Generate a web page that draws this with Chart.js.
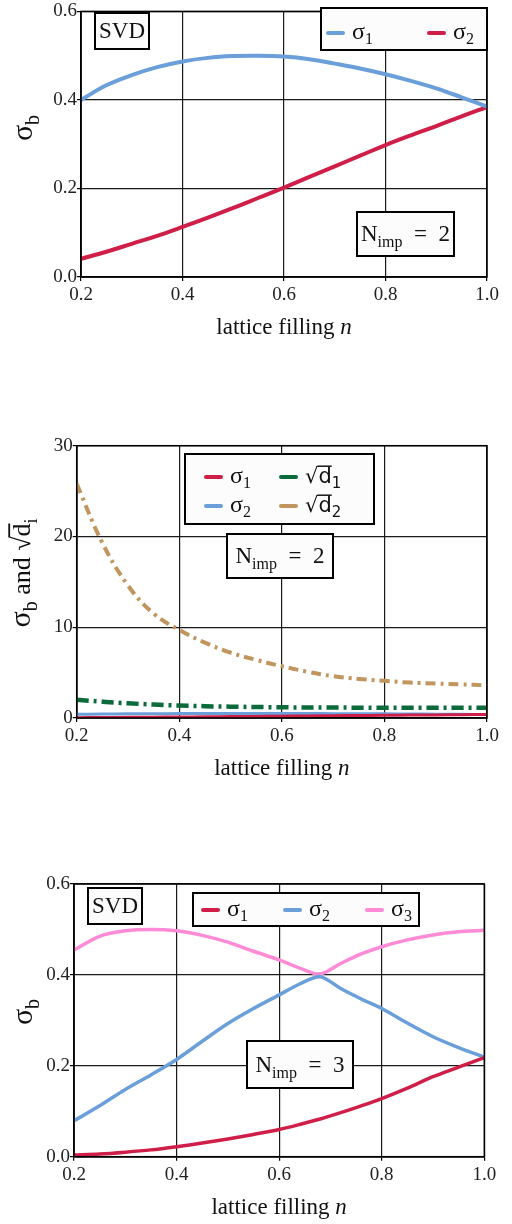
<!DOCTYPE html>
<html>
<head>
<meta charset="utf-8">
<script src="https://cdn.jsdelivr.net/npm/chart.js@4/dist/chart.umd.min.js"></script>
<style>
  body { margin: 0; background: #fff; width: 512px; height: 1224px; position: relative; overflow: hidden; }
  canvas { position: absolute; left: 0; }
</style>
</head>
<body>
<canvas id="chart1" width="512" height="345" style="top:0px"></canvas>
<canvas id="chart2" width="512" height="360" style="top:430px"></canvas>
<canvas id="chart3" width="512" height="364" style="top:860px"></canvas>

<script>
// lattice filling n (x values)
var fill = [0.2, 0.25, 0.3, 0.35, 0.4, 0.45, 0.5, 0.55, 0.6, 0.65, 0.7, 0.75, 0.8, 0.85, 0.9, 0.95, 1.0];
var fill3 = [0.2, 0.25, 0.3, 0.35, 0.4, 0.45, 0.5, 0.55, 0.6, 0.64, 0.68, 0.72, 0.76, 0.8, 0.85, 0.9, 0.95, 1.0];

// top chart, N_imp = 2
var top_sigma1 = [0.400, 0.433, 0.456, 0.474, 0.487, 0.495, 0.499, 0.500, 0.498, 0.492, 0.482, 0.471, 0.458, 0.443, 0.426, 0.406, 0.385];
var top_sigma2 = [0.041, 0.057, 0.075, 0.093, 0.113, 0.134, 0.156, 0.179, 0.202, 0.226, 0.250, 0.274, 0.298, 0.320, 0.341, 0.363, 0.384];

// middle chart, N_imp = 2
var mid_sigma1 = [0.041, 0.057, 0.075, 0.093, 0.113, 0.134, 0.156, 0.179, 0.202, 0.226, 0.250, 0.274, 0.298, 0.320, 0.341, 0.363, 0.384];
var mid_sigma2 = [0.400, 0.433, 0.456, 0.474, 0.487, 0.495, 0.499, 0.500, 0.498, 0.492, 0.482, 0.471, 0.458, 0.443, 0.426, 0.406, 0.385];
var mid_sqrtd1 = [2.0, 1.8, 1.62, 1.48, 1.38, 1.3, 1.25, 1.21, 1.18, 1.16, 1.15, 1.14, 1.13, 1.13, 1.13, 1.13, 1.13];
var mid_sqrtd2 = [25.8, 19.3, 14.6, 11.5, 9.7, 8.3, 7.2, 6.4, 5.7, 5.1, 4.6, 4.3, 4.1, 3.9, 3.8, 3.7, 3.6];

// bottom chart, N_imp = 3
var bot_sigma1 = [0.004, 0.006, 0.010, 0.015, 0.022, 0.030, 0.039, 0.049, 0.060, 0.071, 0.083, 0.097, 0.112, 0.128, 0.151, 0.176, 0.197, 0.218];
var bot_sigma2 = [0.079, 0.112, 0.148, 0.180, 0.214, 0.254, 0.293, 0.326, 0.356, 0.380, 0.396, 0.370, 0.347, 0.326, 0.294, 0.264, 0.240, 0.219];
var bot_sigma3 = [0.455, 0.485, 0.497, 0.500, 0.497, 0.487, 0.472, 0.452, 0.433, 0.415, 0.402, 0.425, 0.446, 0.462, 0.477, 0.488, 0.495, 0.498];

var BLUE = '#6a9fd9', RED = '#cf1f49', PINK = '#ff8ad6', GREEN = '#0b6b3a', TAN = '#c1955e';
var SERIF = '"Liberation Serif", "DejaVu Serif", serif';
var SANS = '"DejaVu Sans", sans-serif';

function pts(xs, ys) {
    var out = [];
    for (var i = 0; i < xs.length; i++) out.push({ x: xs[i], y: ys[i] });
    return out;
}

// draw text made of pieces (for subscripts, sqrt with overline)
function richWidth(ctx, segs) {
    var w = 0;
    segs.forEach(function (s) {
        ctx.font = (s.italic ? 'italic ' : '') + s.s + 'px ' + (s.sans ? SANS : SERIF);
        w += ctx.measureText(s.t).width;
    });
    return w;
}
function drawRich(ctx, segs, x, y, align) {
    var w = richWidth(ctx, segs);
    var cx = align == 'center' ? x - w / 2 : x;
    ctx.textBaseline = 'alphabetic';
    ctx.textAlign = 'left';
    segs.forEach(function (s) {
        ctx.font = (s.italic ? 'italic ' : '') + s.s + 'px ' + (s.sans ? SANS : SERIF);
        ctx.fillStyle = '#111';
        var tw = ctx.measureText(s.t).width;
        ctx.fillText(s.t, cx, y + (s.dy || 0));
        if (s.over) {
            ctx.save();
            ctx.strokeStyle = '#111';
            ctx.lineWidth = s.s * 0.07;
            ctx.beginPath();
            ctx.moveTo(cx - 1, y + (s.dy || 0) - s.s * 0.8);
            ctx.lineTo(cx + tw, y + (s.dy || 0) - s.s * 0.8);
            ctx.stroke();
            ctx.restore();
        }
        cx += tw;
    });
}
function sig(k) { return [{ t: 'σ', s: 24 }, { t: String(k), s: 16, dy: 5 }]; }
function sqd(k) { return [{ t: '√', s: 21, sans: true }, { t: 'd', s: 21, sans: true, over: true }, { t: String(k), s: 15, sans: true, dy: 5 }]; }
function nimp(k) { return [{ t: 'N', s: 23 }, { t: 'imp', s: 16, dy: 6 }, { t: '  =  ' + k, s: 23 }]; }

function frameBox(ctx, b) {
    ctx.save();
    ctx.fillStyle = '#fcfcfc';
    ctx.fillRect(b.x, b.y, b.w, b.h);
    ctx.strokeStyle = '#000';
    ctx.lineWidth = 2;
    ctx.strokeRect(b.x, b.y, b.w, b.h);
    ctx.restore();
}

var deco = {
    id: 'deco',
    afterDatasetsDraw: function (chart, args, opts) {
        var ctx = chart.ctx, a = chart.chartArea;
        ctx.save();
        // plot frame
        ctx.strokeStyle = '#000';
        ctx.lineWidth = 1.5;
        ctx.strokeRect(a.left, a.top, a.right - a.left, a.bottom - a.top);

        // axis titles
        drawRich(ctx, [{ t: 'lattice filling ', s: 23 }, { t: 'n', s: 23, italic: true }], (a.left + a.right) / 2, a.bottom + 57, 'center');
        ctx.save();
        ctx.translate(opts.yTitleX, opts.yTitleY);
        ctx.rotate(-Math.PI / 2);
        drawRich(ctx, opts.yTitle, 0, 0, 'center');
        ctx.restore();

        // text boxes
        opts.boxes.forEach(function (b) {
            frameBox(ctx, b);
            drawRich(ctx, b.segs, b.x + b.w / 2, b.y + b.h / 2 + 7, 'center');
        });

        // legend
        var lg = opts.legend;
        frameBox(ctx, lg);
        lg.items.forEach(function (it) {
            ctx.save();
            ctx.strokeStyle = it.color;
            ctx.lineWidth = 4;
            ctx.lineCap = 'round';
            ctx.beginPath();
            ctx.moveTo(it.x, it.y);
            ctx.lineTo(it.x + 15, it.y);
            ctx.stroke();
            ctx.restore();
            drawRich(ctx, it.segs, it.x + 24, it.y + 6, 'left');
        });
        ctx.restore();
    }
};

function makeChart(id, datasets, yMin, yMax, yStep, yDigits, geo, decoOpts) {
    var ctx = document.getElementById(id).getContext('2d');
    return new Chart(ctx, {
        type: 'line',
        data: { datasets: datasets },
        options: {
            responsive: false,
            animation: false,
            layout: { padding: { top: geo.top, right: 512 - geo.right, left: 0, bottom: 0 } },
            elements: { point: { radius: 0 } },
            plugins: { legend: { display: false }, tooltip: { enabled: false }, deco: decoOpts },
            scales: {
                x: {
                    type: 'linear', min: 0.2, max: 1.0,
                    afterFit: function (s) { s.height = geo.h - geo.bottom; },
                    ticks: { stepSize: 0.2, padding: 3, color: '#222', font: { family: SERIF, size: 19 },
                        callback: function (v) { return v.toFixed(1); } },
                    grid: { color: '#1a1a1a', lineWidth: 1.2, tickLength: 4, tickColor: '#000' },
                    border: { color: '#000', width: 1.5 }
                },
                y: {
                    min: yMin, max: yMax,
                    afterFit: function (s) { s.width = geo.left; },
                    ticks: { stepSize: yStep, padding: 0, color: '#222', font: { family: SERIF, size: 19 },
                        callback: function (v) { return v.toFixed(yDigits); } },
                    grid: { color: '#1a1a1a', lineWidth: 1.2, tickLength: 4, tickColor: '#000' },
                    border: { color: '#000', width: 1.5 }
                }
            }
        },
        plugins: [deco]
    });
}

function line(label, xs, ys, color, width, dash, tension) {
    return { label: label, data: pts(xs, ys), borderColor: color, borderWidth: width,
             borderDash: dash || [], tension: tension, fill: false };
}

// chart 1
makeChart('chart1', [
    line('σ1', fill, top_sigma1, BLUE, 4, null, 0.4),
    line('σ2', fill, top_sigma2, RED, 4, null, 0.4)
], 0, 0.6, 0.2, 1, { top: 7, bottom: 277, left: 81, right: 487, h: 345 }, {
    yTitle: [{ t: 'σ', s: 30 }, { t: 'b', s: 20, dy: 7 }], yTitleX: 32, yTitleY: 128,
    boxes: [
        { x: 95, y: 13, w: 54, h: 36, segs: [{ t: 'SVD', s: 23 }] },
        { x: 357, y: 212, w: 97, h: 44, segs: nimp(2) }
    ],
    legend: { x: 321, y: 8, w: 166, h: 42, items: [
        { x: 328, y: 33, color: BLUE, segs: sig(1) },
        { x: 429, y: 33, color: RED, segs: sig(2) }
    ] }
});

// chart 2
makeChart('chart2', [
    line('σ1', fill, mid_sigma1, RED, 3, null, 0.4),
    line('σ2', fill, mid_sigma2, BLUE, 3, null, 0.4),
    line('√d1', fill, mid_sqrtd1, GREEN, 4.5, [12, 5, 3, 5], 0.4),
    line('√d2', fill, mid_sqrtd2, TAN, 4, [10, 5, 3, 5], 0.4)
], 0, 30, 10, 0, { top: 15.7, bottom: 288, left: 76.7, right: 487, h: 360 }, {
    yTitle: [{ t: 'σ', s: 30 }, { t: 'b', s: 20, dy: 7 }, { t: ' and ', s: 26 }, { t: '√', s: 26 },
             { t: 'd', s: 26, over: true }, { t: 'i', s: 18, dy: 7 }], yTitleX: 30, yTitleY: 143,
    boxes: [
        { x: 227, y: 104, w: 106, h: 44, segs: nimp(2) }
    ],
    legend: { x: 185, y: 24, w: 189, h: 70, items: [
        { x: 206, y: 47, color: RED, segs: sig(1) },
        { x: 281, y: 47, color: GREEN, segs: sqd(1) },
        { x: 206, y: 76, color: BLUE, segs: sig(2) },
        { x: 281, y: 76, color: TAN, segs: sqd(2) }
    ] }
});

// chart 3
makeChart('chart3', [
    line('σ1', fill3, bot_sigma1, RED, 3.5, null, 0.3),
    line('σ2', fill3, bot_sigma2, BLUE, 3.5, null, 0.3),
    line('σ3', fill3, bot_sigma3, PINK, 3.5, null, 0.3)
], 0, 0.6, 0.2, 1, { top: 24, bottom: 296.7, left: 74, right: 484.3, h: 364 }, {
    yTitle: [{ t: 'σ', s: 30 }, { t: 'b', s: 20, dy: 7 }], yTitleX: 32, yTitleY: 152,
    boxes: [
        { x: 88, y: 28, w: 54, h: 36, segs: [{ t: 'SVD', s: 23 }] },
        { x: 247, y: 181, w: 106, h: 47, segs: nimp(3) }
    ],
    legend: { x: 193, y: 33, w: 226, h: 33, items: [
        { x: 203, y: 50, color: RED, segs: sig(1) },
        { x: 285, y: 50, color: BLUE, segs: sig(2) },
        { x: 367, y: 50, color: PINK, segs: sig(3) }
    ] }
});
</script>
</body>
</html>
